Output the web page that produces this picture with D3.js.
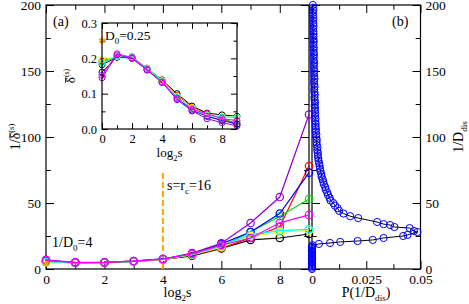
<!DOCTYPE html>
<html>
<head>
<meta charset="utf-8">
<script src="https://cdn.jsdelivr.net/npm/d3@7"></script>
<style>
  body { margin: 0; background: #fff; }
  svg text { font-family: "Liberation Serif", "DejaVu Serif", serif !important; fill: #000; }
</style>
</head>
<body>
<svg id="graph" width="469" height="304" font-family="Liberation Serif"></svg>
<script>
// donnees
log2s = [0, 1, 2, 3, 4, 5, 6, 7, 8, 9];
colors = ["#000000", "#ff0000", "#00dd00", "#0000ff", "#ffff00", "#00ffff", "#9400d3", "#ff00ff"];

// panneau (a) : 1/delta
invDelta = [
  [5.5, 4.8, 4.9, 5.8, 7.2, 10.0, 15.5, 22.0, 23.5, 26.5],
  [5.2, 4.8, 4.9, 5.8, 7.3, 10.5, 16.0, 23.5, 32.0, 78.0],
  [5.3, 4.8, 4.9, 5.8, 7.4, 10.8, 17.0, 28.0, 40.0, 53.0],
  [6.2, 4.9, 5.0, 6.0, 7.6, 11.5, 19.0, 28.0, 42.0, 73.0],
  [5.1, 4.8, 4.9, 5.8, 7.3, 10.8, 16.5, 25.0, 28.0, 29.0],
  [5.4, 4.8, 4.9, 5.8, 7.4, 11.0, 17.5, 26.0, 29.0, 30.0],
  [6.9, 5.0, 5.0, 6.0, 7.6, 12.0, 19.5, 34.8, 54.5, 117.0],
  [6.6, 4.9, 5.0, 5.9, 7.5, 11.5, 18.0, 23.5, 35.0, 41.0]
];

// encart : delta
delta = [
  [0.182, 0.203, 0.204, 0.172, 0.139, 0.100, 0.065, 0.045, 0.040, 0.036],
  [0.192, 0.205, 0.204, 0.172, 0.137, 0.095, 0.062, 0.043, 0.031, 0.013],
  [0.189, 0.206, 0.204, 0.172, 0.135, 0.093, 0.059, 0.036, 0.025, 0.019],
  [0.161, 0.204, 0.200, 0.167, 0.132, 0.087, 0.053, 0.036, 0.024, 0.014],
  [0.196, 0.205, 0.204, 0.172, 0.137, 0.093, 0.061, 0.040, 0.036, 0.034],
  [0.185, 0.207, 0.204, 0.172, 0.135, 0.091, 0.057, 0.038, 0.034, 0.033],
  [0.145, 0.210, 0.200, 0.167, 0.132, 0.083, 0.051, 0.029, 0.018, 0.009],
  [0.152, 0.213, 0.202, 0.169, 0.133, 0.087, 0.056, 0.043, 0.029, 0.024]
];

D0 = 0.25;
invD0 = 4;
rcLog2 = 4;       // s = rc = 16
rcLineTop = 73;

// panneau (b) : distribution P(1/D_dis)
distV = [0, 1, 2, 3, 4, 5, 6, 7, 8, 9, 10, 11, 12, 13, 14, 15, 16, 17, 18,
  19.0, 19.7, 20.5, 21.2, 22.0, 23.5, 25.0, 25.8, 28.0, 28.8, 31.0, 31.8, 33.3, 34.0, 35.6, 38.6, 40.0, 42.0,
  44, 46, 48, 50, 52, 54, 56, 58, 60, 62, 64, 66, 68, 70, 72, 74, 76, 78, 80, 82, 84, 86, 88, 90,
  92, 94, 96, 98, 100, 102, 104, 106, 108, 110, 112, 114, 116, 118, 120, 122, 124, 126, 128, 130,
  132, 134, 136, 138, 140, 142, 144, 146, 148, 150, 152, 154, 156, 158, 160, 162, 164, 166, 168, 170,
  172, 174, 176, 178, 180, 182, 184, 186, 188, 190, 192, 194, 196, 198, 200];
distP = [0, 0, 0, 0, 0, 0, 0, 0, 0, 0, 0, 0, 0, 0, 0, 0, 0, 0, 0.0003,
  0.0032, 0.0083, 0.013, 0.021, 0.028, 0.033, 0.042, 0.044, 0.0486, 0.047, 0.045, 0.038, 0.036, 0.033, 0.030, 0.0213, 0.0176, 0.0145,
  0.0125, 0.0118, 0.0106, 0.0098, 0.0085, 0.0081, 0.0074, 0.0070, 0.0063, 0.0061, 0.0055, 0.0052, 0.0049, 0.0044, 0.0043, 0.0039, 0.0037, 0.0035, 0.0033, 0.0030, 0.0029, 0.0027, 0.0027, 0.0024,
  0.0025, 0.0022, 0.0021, 0.0022, 0.0019, 0.0020, 0.0017, 0.0018, 0.0016, 0.0017, 0.0015, 0.0016, 0.0014, 0.0015, 0.0013, 0.0014, 0.0012, 0.0014, 0.0012, 0.0011,
  0.0013, 0.0011, 0.0010, 0.0012, 0.0010, 0.0009, 0.0011, 0.0010, 0.0008, 0.0010, 0.0009, 0.0008, 0.0010, 0.0008, 0.0007, 0.0009, 0.0008, 0.0007, 0.0008, 0.0006,
  0.0008, 0.0007, 0.0006, 0.0007, 0.0006, 0.0005, 0.0007, 0.0006, 0.0005, 0.0006, 0.0005, 0.0004, 0.0006, 0.0005, 0.0004];

FONT = "'Liberation Serif', 'DejaVu Serif', serif";
svg = d3.select("#graph");

// echelles
x = d3.scaleLinear([0, 9], [46, 309]);
y = d3.scaleLinear([0, 200], [269, 5]);
xP = d3.scaleLinear([0, 0.05], [312, 420.5]);
xi = d3.scaleLinear([0, 9], [102, 237]);
yi = d3.scaleLinear([0, 0.3], [129, 23]);

function noDomain(g) {
  g.select(".domain").remove();
  g.attr("font-family", null);
  g.selectAll("line").attr("stroke", "#000");
}

// axes avec ticks vers l'interieur
function ticksX(g, scale, major, minor, yPos, labels, size, fs, top) {
  g.append("g").attr("transform", "translate(0," + yPos + ")")
    .call((top ? d3.axisTop(scale) : d3.axisBottom(scale)).tickValues(minor).tickSize(-size * 0.6).tickFormat(""))
    .call(noDomain);
  a = g.append("g").attr("transform", "translate(0," + yPos + ")")
    .call((top ? d3.axisTop(scale) : d3.axisBottom(scale)).tickValues(major).tickSize(-size).tickPadding(5)
      .tickFormat(labels ? labels : ""))
    .call(noDomain);
  a.selectAll("text").attr("font-size", fs).style("font-family", FONT);
}
function ticksY(g, scale, major, minor, xPos, labels, size, fs, right) {
  g.append("g").attr("transform", "translate(" + xPos + ",0)")
    .call((right ? d3.axisRight(scale) : d3.axisLeft(scale)).tickValues(minor).tickSize(-size * 0.6).tickFormat(""))
    .call(noDomain);
  a = g.append("g").attr("transform", "translate(" + xPos + ",0)")
    .call((right ? d3.axisRight(scale) : d3.axisLeft(scale)).tickValues(major).tickSize(-size).tickPadding(5)
      .tickFormat(labels ? labels : ""))
    .call(noDomain);
  a.selectAll("text").attr("font-size", fs).style("font-family", FONT);
}

axes = svg.append("g");
yMajor = [0, 50, 100, 150, 200], yMinor = [25, 75, 125, 175];
// panneau (a)
ticksX(axes, x, [0, 2, 4, 6, 8], [1, 3, 5, 7, 9], 269, d3.format("d"), 8, 13.5, false);
ticksX(axes, x, [0, 2, 4, 6, 8], [1, 3, 5, 7, 9], 5, null, 8, 13.5, true);
ticksY(axes, y, yMajor, yMinor, 46, d3.format("d"), 8, 13.5, false);
ticksY(axes, y, yMajor, yMinor, 309, null, 8, 13.5, true);
// panneau (b)
pMajor = [0, 0.025, 0.05], pMinor = [0.0125, 0.0375];
ticksX(axes, xP, pMajor, pMinor, 269, d => d === 0 ? "0" : String(d), 8, 13.5, false);
ticksX(axes, xP, pMajor, pMinor, 5, null, 8, 13.5, true);
ticksY(axes, y, yMajor, yMinor, 312, null, 8, 13.5, false);
ticksY(axes, y, yMajor, yMinor, 420.5, d3.format("d"), 8, 13.5, true);

// cadres
svg.append("rect").attr("x", 46).attr("y", 5).attr("width", 263).attr("height", 264)
  .attr("fill", "none").attr("stroke", "#000").attr("stroke-width", 1.2);
svg.append("rect").attr("x", 312).attr("y", 5).attr("width", 108.5).attr("height", 264)
  .attr("fill", "none").attr("stroke", "#000").attr("stroke-width", 1.2);

// ligne s = rc
svg.append("line")
  .attr("x1", x(rcLog2)).attr("x2", x(rcLog2))
  .attr("y1", y(0)).attr("y2", y(rcLineTop))
  .attr("stroke", "#ffa500").attr("stroke-width", 2).attr("stroke-dasharray", "6,3");

// courbes panneau (a)
line = d3.line().x((d, i) => x(log2s[i])).y(d => y(d));
invDelta.forEach(function (serie, k) {
  svg.append("path").attr("d", line(serie))
    .attr("fill", "none").attr("stroke", colors[k]).attr("stroke-width", 1.2);
  svg.selectAll(null).data(serie).enter().append("circle")
    .attr("cx", (d, i) => x(log2s[i])).attr("cy", d => y(d)).attr("r", 3.7)
    .attr("fill", "none").attr("stroke", colors[k]).attr("stroke-width", 1.2);
});
star = d3.symbol(d3.symbolAsterisk, 30);
svg.append("path").attr("d", star()).attr("transform", "translate(" + x(0) + "," + y(invD0) + ")")
  .attr("fill", "none").attr("stroke", "#ff9900").attr("stroke-width", 1.5);

// panneau (b)
distLine = d3.line().x((d, i) => xP(distP[i])).y(d => y(d));
svg.append("path").attr("d", distLine(distV))
  .attr("fill", "none").attr("stroke", "#000").attr("stroke-width", 1);
svg.selectAll(null).data(distV).enter().append("circle")
  .attr("cx", (d, i) => xP(distP[i])).attr("cy", d => y(d)).attr("r", 3.6)
  .attr("fill", "none").attr("stroke", "#0000ff").attr("stroke-width", 1);

// encart
inset = svg.append("g");
inset.append("rect").attr("x", 102).attr("y", 23).attr("width", 135).attr("height", 106).attr("fill", "#fff");
iax = inset.append("g");
ticksX(iax, xi, [0, 2, 4, 6, 8], [1, 3, 5, 7, 9], 129, d3.format("d"), 6, 12.5, false);
ticksX(iax, xi, [0, 2, 4, 6, 8], [1, 3, 5, 7, 9], 23, null, 6, 12.5, true);
ticksY(iax, yi, [0, 0.1, 0.2, 0.3], [0.05, 0.15, 0.25], 102, d3.format(".1f"), 6, 12.5, false);
ticksY(iax, yi, [0, 0.1, 0.2, 0.3], [0.05, 0.15, 0.25], 237, null, 6, 12.5, true);
lineI = d3.line().x((d, i) => xi(log2s[i])).y(d => yi(d));
delta.forEach(function (serie, k) {
  inset.append("path").attr("d", lineI(serie))
    .attr("fill", "none").attr("stroke", colors[k]).attr("stroke-width", 1);
  inset.selectAll(null).data(serie).enter().append("circle")
    .attr("cx", (d, i) => xi(log2s[i])).attr("cy", d => yi(d)).attr("r", 3)
    .attr("fill", "none").attr("stroke", colors[k]).attr("stroke-width", 1);
});
inset.append("path").attr("d", star()).attr("transform", "translate(" + xi(0) + "," + yi(D0) + ")")
  .attr("fill", "none").attr("stroke", "#ff9900").attr("stroke-width", 1.5);
inset.append("rect").attr("x", 102).attr("y", 23).attr("width", 135).attr("height", 106)
  .attr("fill", "none").attr("stroke", "#000").attr("stroke-width", 1.2);

// textes
function label(x0, y0, parts, fs, opts) {
  opts = opts || {};
  g = svg.append("g")
    .attr("transform", "translate(" + x0 + "," + y0 + ")" + (opts.rot ? " rotate(-90)" : ""));
  t = g.append("text").attr("font-size", fs).style("font-family", FONT)
    .attr("text-anchor", opts.rot || opts.center ? "middle" : "start");
  parts.forEach(function (p) {
    s = t.append("tspan").text(p[0]);
    if (p[1] === "sub") s.attr("font-size", fs * 0.65).attr("dy", fs * 0.3);
    if (p[1] === "sup") s.attr("font-size", fs * 0.6).attr("dy", -fs * 0.45);
    if (p[1] === "back") s.attr("dy", p[2]);
  });
  // barre au-dessus d'un caractere
  if (opts.bar !== undefined) {
    n = t.node();
    a0 = n.getStartPositionOfChar(opts.bar), a1 = n.getEndPositionOfChar(opts.bar);
    g.append("line").attr("x1", a0.x + 0.5).attr("x2", a1.x - 0.2)
      .attr("y1", a0.y - fs * 0.72).attr("y2", a0.y - fs * 0.72)
      .attr("stroke", "#000").attr("stroke-width", 0.9);
  }
  return t;
}
label(53, 26, [["(a)"]], 14);
label(392, 26, [["(b)"]], 14);
label(105, 40, [["D"], ["0", "sub"], ["=0.25", "back", -13.5 * 0.3]], 13.5);
label(52, 247, [["1/D"], ["0", "sub"], ["=4", "back", -14 * 0.3]], 14);
label(167, 190, [["s=r"], ["c", "sub"], ["=16", "back", -14 * 0.3]], 14);

label(177.5, 297, [["log"], ["2", "sub"], ["s", "back", -14 * 0.3]], 14, {center: true});
label(169.5, 157, [["log"], ["2", "sub"], ["s", "back", -13 * 0.3]], 13, {center: true});
label(366, 297, [["P(1/D"], ["dis", "sub"], [")", "back", -14 * 0.3]], 14, {center: true});

label(20, 137, [["1/\u03b4"], ["(s)", "sup"]], 14, {rot: true, bar: 2});
label(75, 76, [["\u03b4"], ["(s)", "sup"]], 13, {rot: true, bar: 0});
label(463, 137, [["1/D"], ["dis", "sub"]], 14, {rot: true});
</script>
</body>
</html>
